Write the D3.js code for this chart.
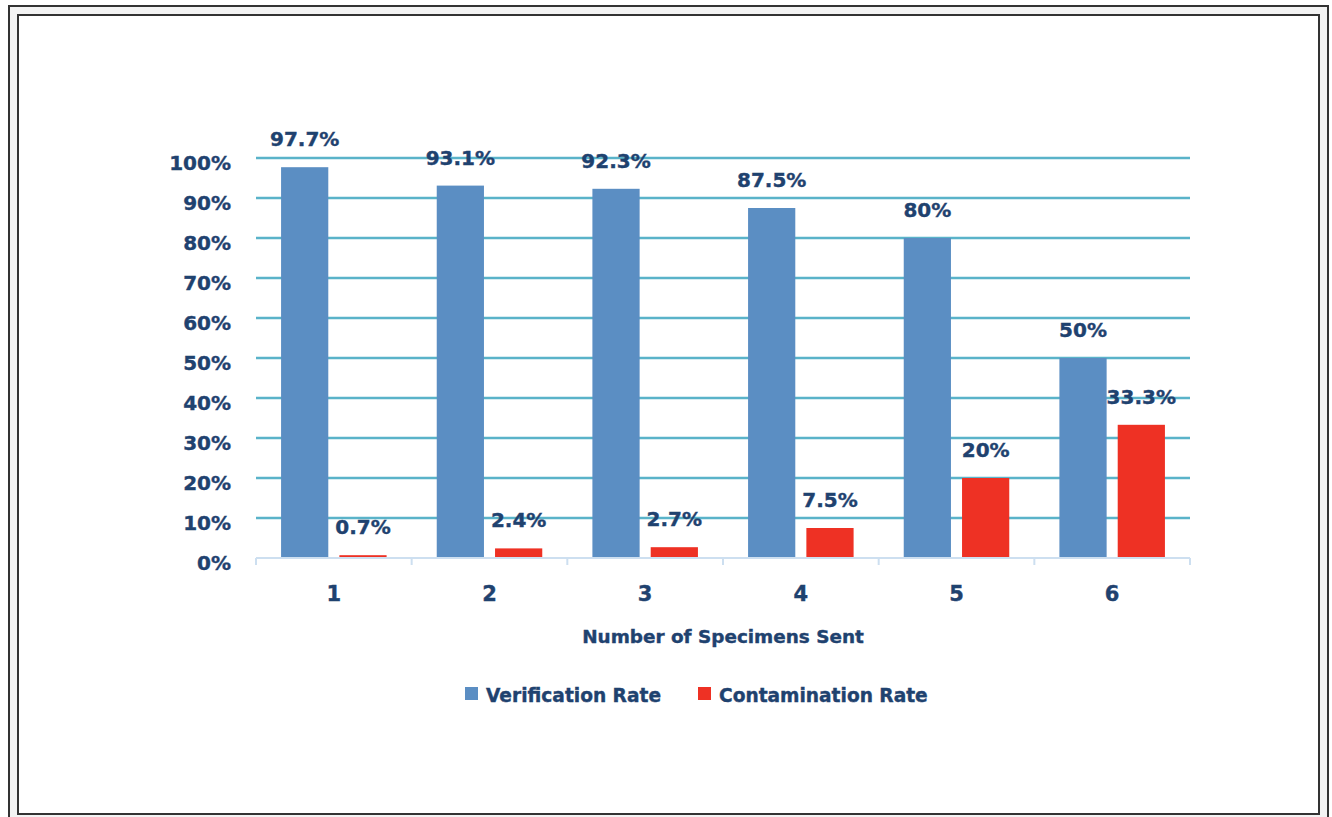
<!DOCTYPE html>
<html>
<head>
<meta charset="utf-8">
<script src="https://cdn.jsdelivr.net/npm/d3@7"></script>
<style>
  body { margin: 0; background: #fff; }
  svg text { font-family: "DejaVu Sans", sans-serif; font-weight: bold; fill: #1f426f;
             stroke: #1f426f; stroke-width: 0.4; }
</style>
</head>
<body>
<div id="chart"></div>
<script>
// data
var categories = ["1", "2", "3", "4", "5", "6"];
var verification = [97.7, 93.1, 92.3, 87.5, 80, 50];
var contamination = [0.7, 2.4, 2.7, 7.5, 20, 33.3];
var valueLabelsV = ["97.7%", "93.1%", "92.3%", "87.5%", "80%", "50%"];
var valueLabelsC = ["0.7%", "2.4%", "2.7%", "7.5%", "20%", "33.3%"];
var yTicks = [0, 10, 20, 30, 40, 50, 60, 70, 80, 90, 100];
var seriesNames = ["Verification Rate", "Contamination Rate"];
var colors = ["#5b8ec3", "#ee3124"];

var W = 1332, H = 817;
var svg = d3.select("#chart").append("svg")
  .attr("width", W).attr("height", H);

// double frame
svg.append("rect").attr("x", 9).attr("y", 6).attr("width", 1319).attr("height", 840)
  .attr("fill", "#f3f3f3").attr("stroke", "#333").attr("stroke-width", 2);
svg.append("rect").attr("x", 18).attr("y", 15).attr("width", 1301).attr("height", 799)
  .attr("fill", "#fff").attr("stroke", "#333").attr("stroke-width", 2);

var x = d3.scaleBand().domain(categories).range([256, 1190]);
var xs = d3.scaleBand().domain(seriesNames).range([0, x.bandwidth()])
  .paddingInner(0.19).paddingOuter(0.43);
var y = d3.scaleLinear().domain([0, 100]).range([558, 158]);

// gridlines
svg.append("g").selectAll("line")
  .data(yTicks.filter(function(d) { return d > 0; }))
  .enter().append("line")
  .attr("x1", 256).attr("x2", 1190)
  .attr("y1", function(d) { return y(d); })
  .attr("y2", function(d) { return y(d); })
  .attr("stroke", "#5ab3c9").attr("stroke-width", 2.5);

// y labels
svg.append("g").selectAll("text")
  .data(yTicks).enter().append("text")
  .attr("x", 231)
  .attr("y", function(d) { return y(d) + 12; })
  .attr("text-anchor", "end")
  .attr("font-size", 20)
  .text(function(d) { return d + "%"; });

// bars
var rows = categories.map(function(c, i) {
  return { cat: c, vals: [verification[i], contamination[i]], labs: [valueLabelsV[i], valueLabelsC[i]] };
});

var groups = svg.append("g").selectAll("g")
  .data(rows).enter().append("g")
  .attr("transform", function(d) { return "translate(" + x(d.cat) + ",0)"; });

groups.selectAll("rect")
  .data(function(d) { return d.vals.map(function(v, j) { return { s: seriesNames[j], v: v, j: j }; }); })
  .enter().append("rect")
  .attr("x", function(d) { return xs(d.s); })
  .attr("y", function(d) { return y(d.v); })
  .attr("width", xs.bandwidth())
  .attr("height", function(d) { return y(0) - y(d.v); })
  .attr("fill", function(d) { return colors[d.j]; });

groups.selectAll("text")
  .data(function(d) { return d.vals.map(function(v, j) { return { s: seriesNames[j], v: v, lab: d.labs[j] }; }); })
  .enter().append("text")
  .attr("x", function(d) { return xs(d.s) + xs.bandwidth() / 2; })
  .attr("y", function(d) { return y(d.v) - 21; })
  .attr("text-anchor", "middle")
  .attr("font-size", 20)
  .text(function(d) { return d.lab; });

// x axis baseline with boundary ticks
svg.append("line").attr("x1", 256).attr("x2", 1190)
  .attr("y1", y(0)).attr("y2", y(0))
  .attr("stroke", "#cddff0").attr("stroke-width", 2);
var bounds = categories.map(function(c) { return x(c); }).concat([x.range()[1]]);
svg.append("g").selectAll("line").data(bounds).enter().append("line")
  .attr("x1", function(d) { return d; }).attr("x2", function(d) { return d; })
  .attr("y1", y(0)).attr("y2", y(0) + 7)
  .attr("stroke", "#cddff0").attr("stroke-width", 2);

svg.append("g").selectAll("text").data(categories).enter().append("text")
  .attr("x", function(d) { return x(d) + x.bandwidth() / 2; })
  .attr("y", 601)
  .attr("text-anchor", "middle")
  .attr("font-size", 21)
  .text(function(d) { return d; });

// axis title
svg.append("text")
  .attr("x", 723).attr("y", 643)
  .attr("text-anchor", "middle")
  .attr("font-family", "'DejaVu Sans Condensed', sans-serif")
  .attr("font-size", 18.4)
  .text("Number of Specimens Sent");

// legend
var legendX = [465, 698];
var leg = svg.append("g").selectAll("g").data(seriesNames).enter().append("g")
  .attr("transform", function(d, i) { return "translate(" + legendX[i] + ",0)"; });
leg.append("rect").attr("x", 0).attr("y", 687).attr("width", 13).attr("height", 13)
  .attr("fill", function(d, i) { return colors[i]; });
leg.append("text").attr("x", 21).attr("y", 702)
  .attr("font-family", "'DejaVu Sans Condensed', sans-serif")
  .attr("font-size", 18.6)
  .text(function(d) { return d; });
</script>
</body>
</html>
